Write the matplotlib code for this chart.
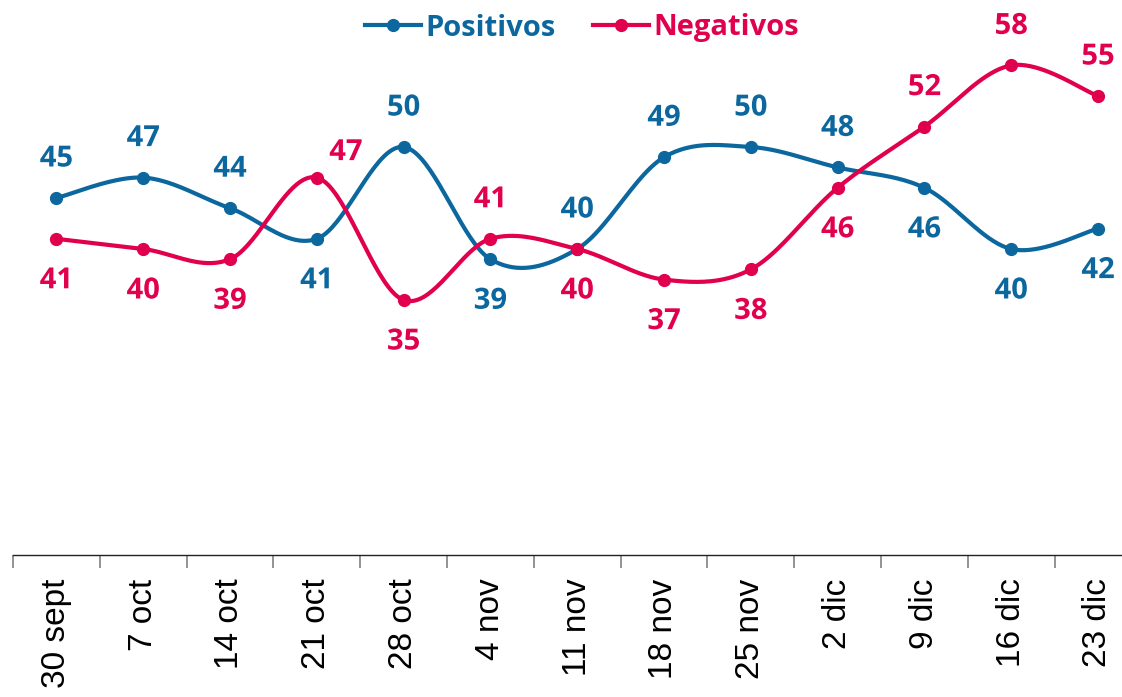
import numpy as np
import matplotlib
matplotlib.use("Agg")
import matplotlib.pyplot as plt
from matplotlib import patheffects as pe
from matplotlib.lines import Line2D

categories = ["30 sept", "7 oct", "14 oct", "21 oct", "28 oct", "4 nov", "11 nov",
              "18 nov", "25 nov", "2 dic", "9 dic", "16 dic", "23 dic"]
positivos = [45, 47, 44, 41, 50, 39, 40, 49, 50, 48, 46, 40, 42]
negativos = [41, 40, 39, 47, 35, 41, 40, 37, 38, 46, 52, 58, 55]

BLUE = "#0B679D"
RED = "#E1004E"
LABEL_FONT = ["Open Sans", "DejaVu Sans"]


def smooth(x, y, n=40):
    x = np.asarray(x, float)
    y = np.asarray(y, float)
    P = np.column_stack([x, y])
    out = []
    for i in range(len(P) - 1):
        p0 = P[i - 1] if i > 0 else P[i]
        p1 = P[i]
        p2 = P[i + 1]
        p3 = P[i + 2] if i + 2 < len(P) else P[i + 1]
        c1 = p1 + (p2 - p0) / 6.0
        c2 = p2 - (p3 - p1) / 6.0
        t = np.linspace(0, 1, n)[:, None]
        seg = ((1 - t) ** 3) * p1 + 3 * ((1 - t) ** 2) * t * c1 + 3 * (1 - t) * t ** 2 * c2 + t ** 3 * p2
        if i > 0:
            seg = seg[1:]
        out.append(seg)
    out = np.vstack(out)
    return out[:, 0], out[:, 1]


W, H = 1122, 697
fig = plt.figure(figsize=(W / 100, H / 100), dpi=100)
left_px, bottom_px = 13, 555
step = 86.8
ymin, ymax = 10.0, 60.0
unit = 10.2
height_px = (ymax - ymin) * unit
ax = fig.add_axes([left_px / W, (H - bottom_px) / H, step * len(categories) / W, height_px / H])

x = np.arange(len(categories))
for vals, col in [(positivos, BLUE), (negativos, RED)]:
    sx, sy = smooth(x, vals)
    ax.plot(sx, sy, color=col, lw=3.0, solid_capstyle="round", zorder=3)
    ax.plot(x, vals, "o", color=col, ms=8.5, zorder=4)

halo = [pe.withStroke(linewidth=3, foreground="white")]
special = {("neg", 3): (29, 25)}
for i in range(len(categories)):
    p, n = positivos[i], negativos[i]
    for key, v, other, col in [("pos", p, n, BLUE), ("neg", n, p, RED)]:
        above = v >= other if key == "pos" else v > other
        dy = 39 if above else -42
        dx = 0
        if (key, i) in special:
            dx, dy = special[(key, i)]
        ax.annotate(str(v), (x[i], v), xytext=(dx, dy), textcoords="offset pixels",
                    ha="center", va="center", color=col, fontsize=21, fontweight="bold",
                    family=LABEL_FONT, path_effects=halo, zorder=5)

ax.set_xlim(-0.5, len(categories) - 0.5)
ax.set_ylim(ymin, ymax)
ax.set_yticks([])
for s in ["top", "right", "left"]:
    ax.spines[s].set_visible(False)
ax.spines["bottom"].set_color("#222222")
ax.spines["bottom"].set_linewidth(1.0)
ax.set_xticks(x)
ax.set_xticklabels(categories, rotation=90, ha="center", va="top",
                   fontsize=24, family=["Liberation Sans", "DejaVu Sans"], color="black")
ax.tick_params(axis="x", which="major", length=0, pad=17)
ax.set_xticks(np.arange(len(categories) + 1) - 0.5, minor=True)
ax.tick_params(axis="x", which="minor", length=9, width=1.2, color="#808080")

handles = [Line2D([], [], color=BLUE, lw=3, marker="o", ms=8.5),
           Line2D([], [], color=RED, lw=3, marker="o", ms=8.5)]
leg = fig.legend(handles, ["Positivos", "Negativos"], loc="center",
                 bbox_to_anchor=(582 / W, 1 - 28 / H), ncol=2, frameon=False,
                 prop={"family": LABEL_FONT, "weight": "bold", "size": 21},
                 handlelength=1.9, handletextpad=0.15, columnspacing=1.3)
for t, c in zip(leg.get_texts(), [BLUE, RED]):
    t.set_color(c)

fig.savefig("out.png", dpi=100)
